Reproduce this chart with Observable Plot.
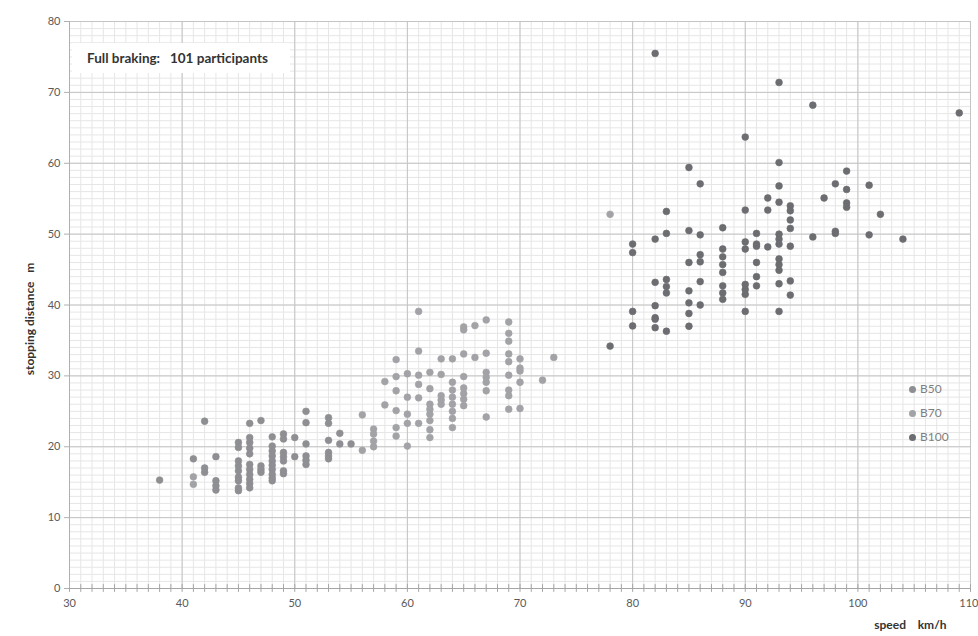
<!DOCTYPE html>
<html><head><meta charset="utf-8">
<script src="https://cdn.jsdelivr.net/npm/d3@7"></script>
<script src="https://cdn.jsdelivr.net/npm/@observablehq/plot@0.6"></script>
<style>
body{margin:0;background:#fff;font-family:Lato,"Open Sans",sans-serif;}
#wrap{position:relative;width:978px;height:636px;}
#title{position:absolute;left:72px;top:43px;width:218px;height:30px;background:#fff;font-weight:bold;font-size:13.5px;color:#333;line-height:30px;padding-left:15px;box-sizing:border-box;white-space:pre;}
#legend{position:absolute;left:909px;top:377px;font-size:12px;color:#7f7f7f;}
#legend div{height:24px;line-height:16px;display:flex;align-items:center;}
#legend span.m{display:inline-block;width:7px;height:7px;border-radius:50%;margin-right:4px;}
</style></head>
<body><div id="wrap"></div>
<script>
const seriesNames = ["B50", "B70", "B100"];
const seriesColors = ["#8e8f92", "#a2a3a6", "#6c6d71"];
const xTicks = [30, 40, 50, 60, 70, 80, 90, 100, 110];
const yTicks = [0, 10, 20, 30, 40, 50, 60, 70, 80];
const titleText = "Full braking:   101 participants";
const xLabel = "speed    km/h";
const yLabel = "stopping distance   m";

const b50 = [
  [38,[15.3]],[41,[18.3]],[42,[23.6,17.0,16.4]],[43,[18.6,15.2,14.5,13.9]],
  [45,[20.6,19.9,18.0,17.3,16.6,15.7,15.2,14.2,13.8]],
  [46,[23.3,21.3,20.6,19.8,19.0,17.5,16.8,16.1,15.4,14.8,14.2]],
  [47,[23.7,17.3,16.8,16.4]],[48,[21.4,20.1,19.4,18.7,18.0,17.4,16.8,16.1,15.6,15.2]],
  [49,[21.8,21.1,19.2,18.6,18.0,16.6,16.2]],[50,[21.3,18.6]],
  [51,[25.0,23.4,20.4,18.7,18.1,17.5]],[53,[24.1,23.3,20.9,19.2,18.7,18.3]],
  [54,[21.9,20.4]],[55,[20.4]]
];
const b70 = [
  [41,[15.75,14.7]],[56,[24.5,19.5]],[57,[22.5,21.8,20.8,20.0]],[58,[29.2,25.9]],
  [59,[32.3,29.9,27.9,25.1,22.7,21.5]],[60,[30.3,27.0,24.6,23.3,20.1]],
  [61,[39.1,33.5,30.1,28.8,26.9,23.3]],[62,[30.5,28.2,26.0,25.3,24.6,23.7,22.4,21.3]],
  [63,[32.4,30.2,27.2,26.6,26.0]],[64,[32.4,29.1,28.0,27.0,26.0,25.0,24.0,22.7]],
  [65,[36.9,36.5,33.1,29.9,28.3,27.5,26.7,25.8]],[66,[37.1,32.6]],
  [67,[37.9,33.2,30.5,29.8,29.1,27.9,24.2]],[69,[37.6,36.0,34.9,33.1,32.0,30.1,28.0,27.2,25.3]],
  [70,[32.4,31.1,30.7,29.1,25.4]],[72,[29.4]],[73,[32.6]],[78,[52.8]]
];
const b100 = [
  [78,[34.2]],[80,[48.6,47.4,39.1,37.05]],[82,[75.5,49.3,43.2,39.9,38.2,38.0,36.8]],
  [83,[53.2,50.1,43.6,42.6,41.7,36.3]],[85,[59.4,50.5,46.0,42.0,40.3,38.8,37.0]],
  [86,[57.1,49.9,47.1,46.1,43.3,40.0]],[88,[50.9,47.9,46.8,45.7,44.6,42.7,41.7,40.8]],
  [90,[63.7,53.4,48.9,47.9,42.9,42.2,41.5,39.1]],[91,[50.1,48.6,48.3,46.0,44.0,42.7]],
  [92,[55.1,53.4,48.2]],[93,[71.4,60.1,56.8,54.5,50.0,49.3,48.6,46.5,45.7,44.9,43.0,39.1]],
  [94,[54.0,53.3,52.0,50.8,48.3,43.4,41.4]],[96,[68.2,49.6]],[97,[55.1]],[98,[57.1,50.4,50.1]],
  [99,[58.9,56.3,54.4,53.8]],[101,[56.9,49.9]],[102,[52.8]],[104,[49.3]],[109,[67.1]]
];

const table = [];
[[b50,"B50"],[b70,"B70"],[b100,"B100"]].forEach(([arr,name]) => {
  arr.forEach(([s, ds]) => ds.forEach(d => table.push({speed: s, dist: d, series: name})));
});

const minorX = d3.range(30, 111);
const minorY = d3.range(0, 81);
const xTicksInner = xTicks.slice(0, -1);
const xTickLast = xTicks.slice(-1);

const chart = Plot.plot({
  width: 978, height: 636,
  marginLeft: 69, marginRight: 8, marginTop: 21, marginBottom: 48,
  style: {fontFamily: "Lato, 'Open Sans', sans-serif", fontSize: "11px", color: "#595959", background: "#fff"},
  x: {domain: [30, 110]},
  y: {domain: [0, 80]},
  color: {domain: seriesNames, range: seriesColors},
  marks: [
    Plot.ruleX(minorX, {stroke: "#e6e6e6", strokeWidth: 1}),
    Plot.ruleY(minorY, {stroke: "#e6e6e6", strokeWidth: 1}),
    Plot.ruleX(xTicks, {stroke: "#c4c4c4", strokeWidth: 1}),
    Plot.ruleY(yTicks, {stroke: "#c4c4c4", strokeWidth: 1}),
    Plot.ruleX(minorX, {y1: -0.55, y2: 0.55, stroke: "#a6a6a6"}),
    Plot.ruleY([0], {stroke: "#a6a6a6"}),
    Plot.ruleX([30], {stroke: "#b0b0b0"}),
    Plot.axisX({ticks: xTicksInner, tickSize: 0, tickPadding: 11, fill: "#595959", label: null}),
    Plot.axisX({ticks: xTickLast, tickSize: 0, tickPadding: 11, fill: "#595959", label: null, textAnchor: "end", dx: 8}),
    Plot.axisY({ticks: yTicks, tickSize: 5, tickPadding: 4, stroke: "#b0b0b0", fill: "#595959", label: null}),
    Plot.dot(table, {x: "speed", y: "dist", fill: "series", r: 3.4, stroke: "series", strokeWidth: 0.6}),
    Plot.text([yLabel], {frameAnchor: "left", textAnchor: "middle", rotate: -90, dx: -39, dy: 14, fontWeight: "bold", fill: "#333", fontSize: 12}),
    Plot.text([xLabel], {frameAnchor: "bottom-right", dy: 40, dx: -24, fontWeight: "bold", fill: "#333", fontSize: 12})
  ]
});

const wrap = document.getElementById("wrap");
wrap.appendChild(chart);
const t = document.createElement("div");
t.id = "title"; t.textContent = titleText;
wrap.appendChild(t);
const lg = document.createElement("div");
lg.id = "legend";
seriesNames.forEach((n, i) => {
  const row = document.createElement("div");
  const m = document.createElement("span");
  m.className = "m"; m.style.background = seriesColors[i];
  row.appendChild(m);
  row.appendChild(document.createTextNode(n));
  lg.appendChild(row);
});
wrap.appendChild(lg);
</script>
</body></html>
